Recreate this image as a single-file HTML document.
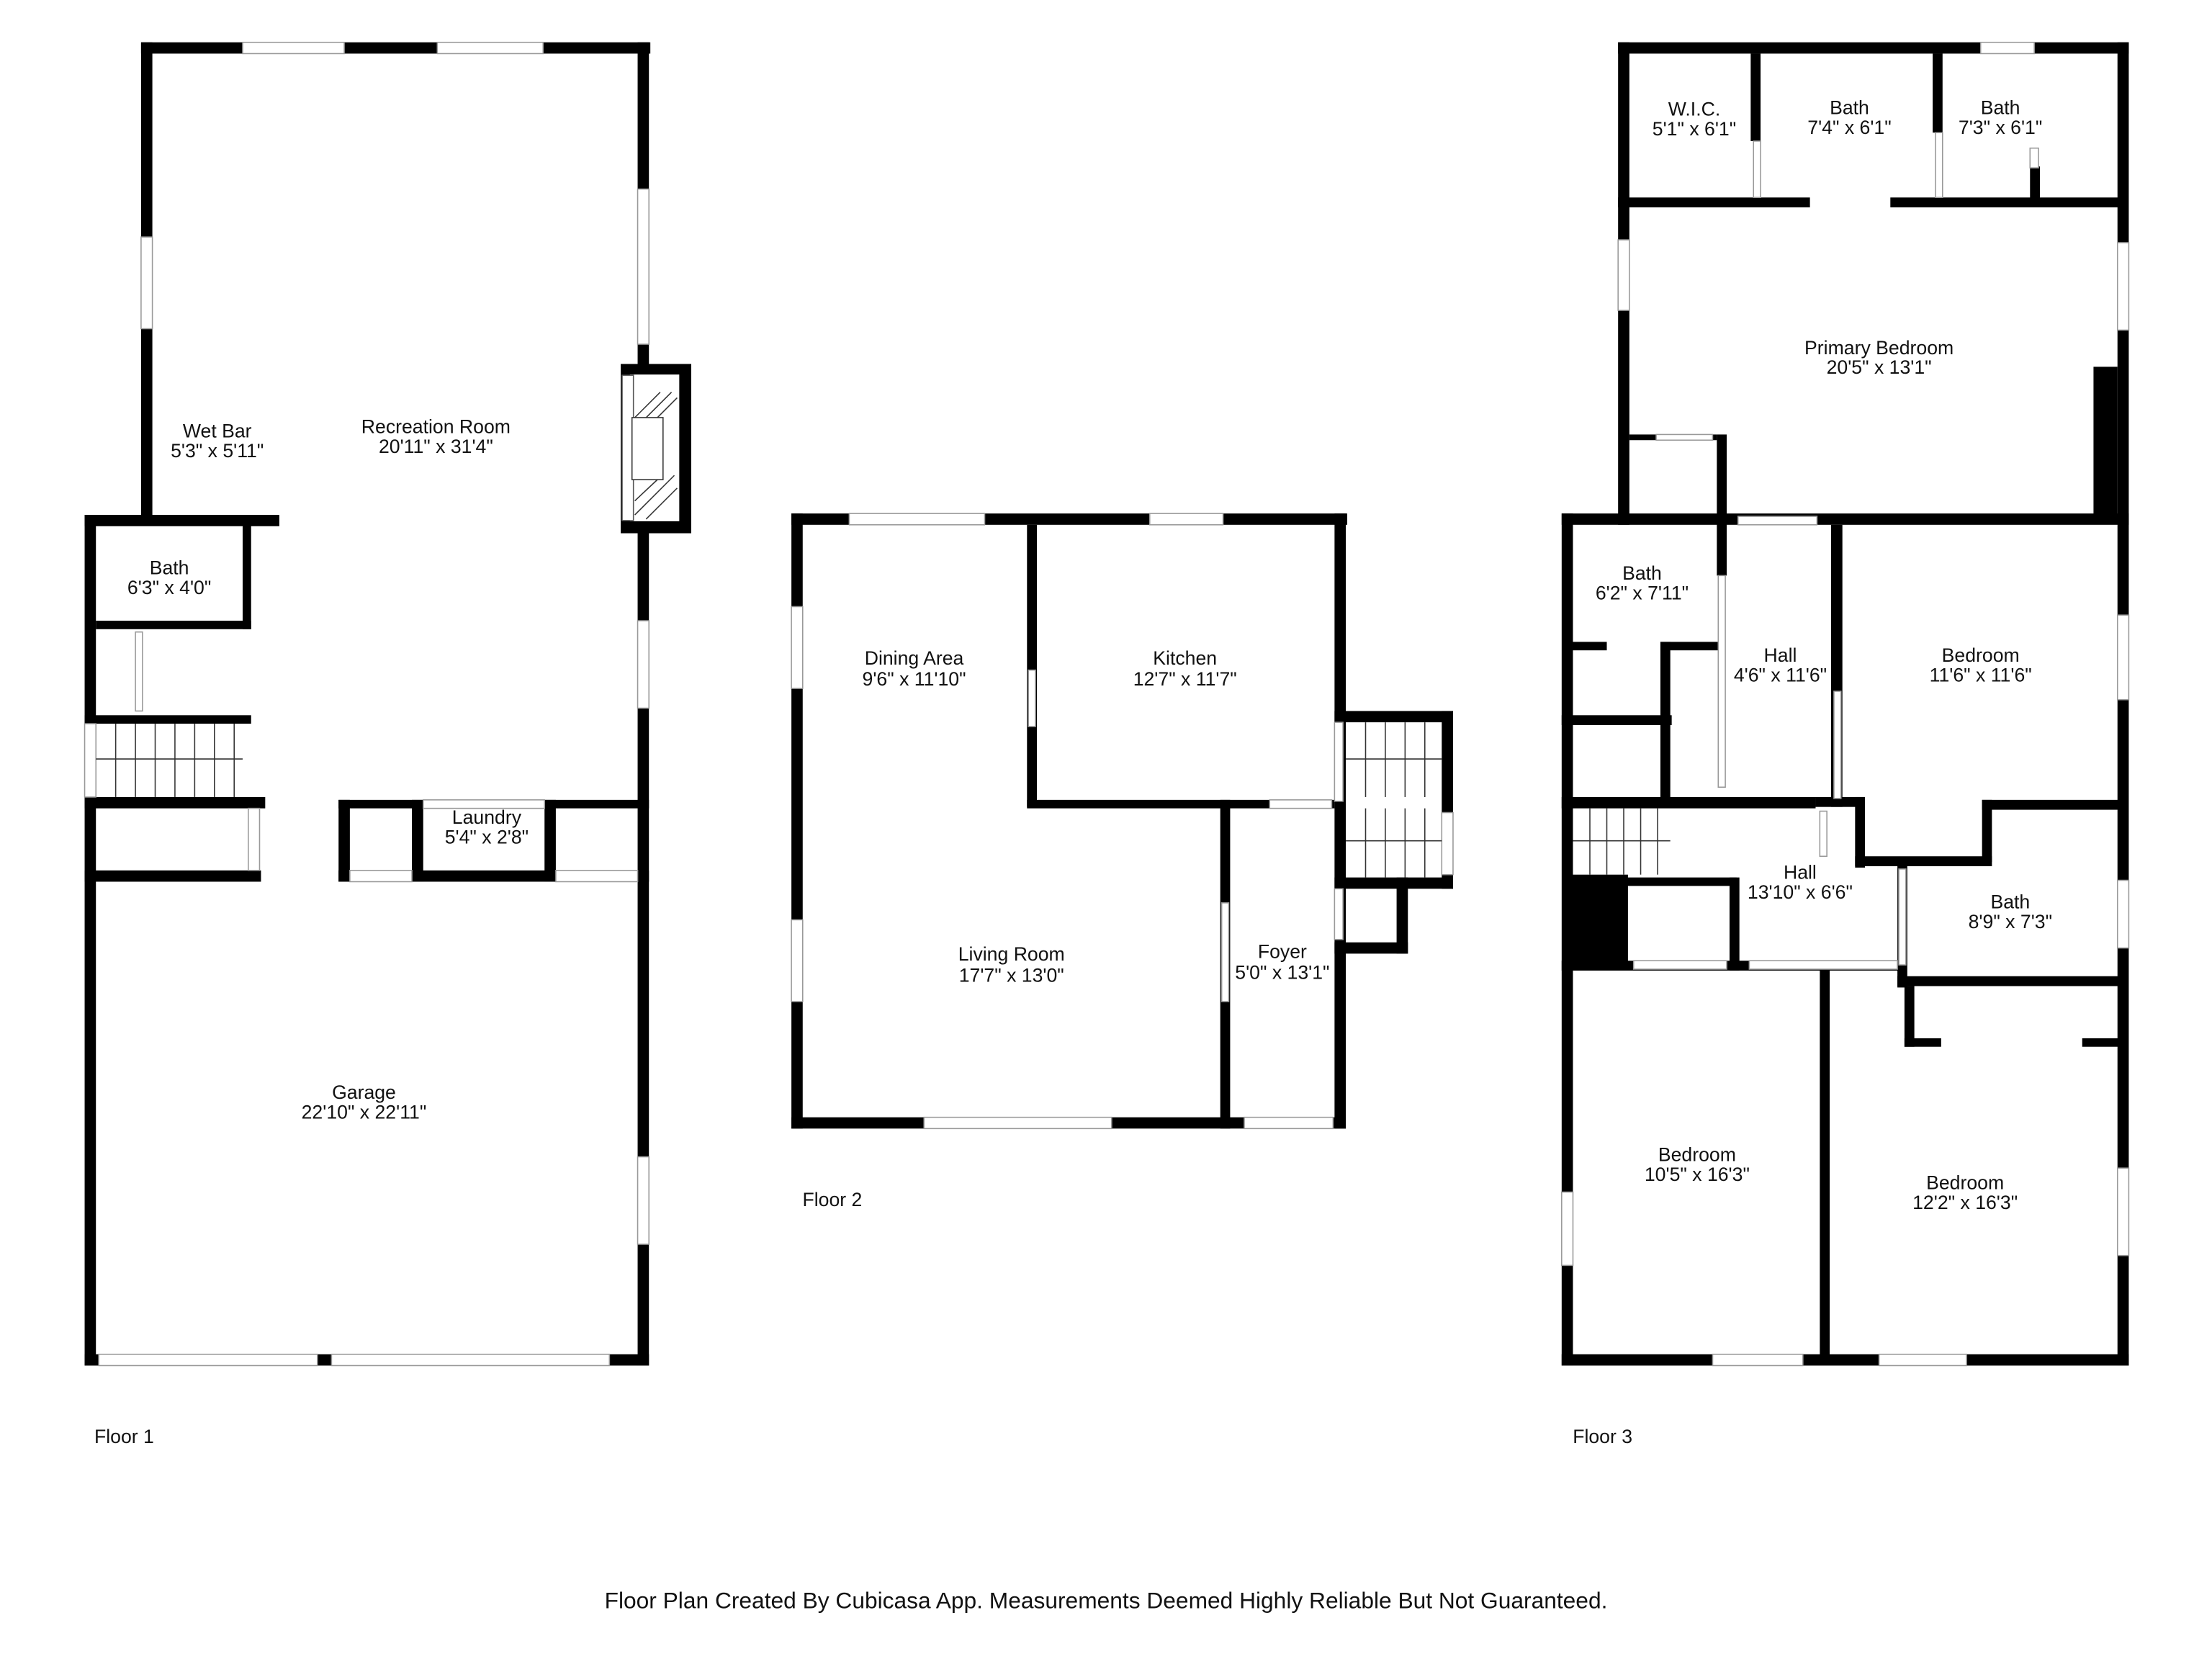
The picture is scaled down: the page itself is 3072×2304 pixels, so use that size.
<!DOCTYPE html>
<html><head><meta charset="utf-8"><style>
html,body{margin:0;padding:0;background:#fff;}
svg{display:block;}
text{font-family:"Liberation Sans",sans-serif;font-size:13.6px;fill:#111;text-anchor:middle;}
.w{fill:#000;}
.win{fill:#fff;stroke:#999;stroke-width:0.8;}
.st{stroke:#333;stroke-width:0.8;fill:none;}
</style></head><body>
<svg width="3072" height="2304" viewBox="0 0 1568 1176" xmlns="http://www.w3.org/2000/svg">
<rect width="1568" height="1176" fill="#fff"/>
<!-- FLOOR 1 -->
<g>
<rect class="w" x="100" y="30" width="361" height="8"/>
<rect class="w" x="100" y="30" width="8" height="342"/>
<rect class="w" x="452" y="30" width="8" height="938"/>
<rect class="w" x="60" y="365" width="138" height="8"/>
<rect class="w" x="60" y="365" width="8" height="603"/>
<rect class="w" x="172" y="372" width="6" height="74"/>
<rect class="w" x="68" y="440" width="110" height="6"/>
<rect class="w" x="60" y="507" width="118" height="6"/>
<rect class="w" x="60" y="565" width="128" height="8"/>
<rect class="w" x="60" y="617" width="125" height="8"/>
<rect class="w" x="240" y="617" width="220" height="8"/>
<rect class="w" x="240" y="567" width="8" height="58"/>
<rect class="w" x="240" y="567" width="60" height="6"/>
<rect class="w" x="292" y="567" width="8" height="58"/>
<rect class="w" x="386" y="567" width="74" height="6"/>
<rect class="w" x="386" y="567" width="8" height="58"/>
<rect class="w" x="60" y="960" width="400" height="8"/>
<!-- fireplace -->
<rect class="w" x="440" y="258" width="50" height="120"/>
<rect x="446" y="265" width="36" height="105" fill="#fff" stroke="#000"/>
<rect x="441" y="266" width="8" height="103" fill="#fff" stroke="#555" stroke-width="0.8"/>
<g stroke="#333" stroke-width="0.8">
<line x1="450" y1="296" x2="468" y2="278"/><line x1="458" y1="296" x2="476" y2="278"/><line x1="466" y1="296" x2="480" y2="282"/>
<line x1="450" y1="365" x2="478" y2="337"/><line x1="458" y1="368" x2="480" y2="346"/><line x1="450" y1="355" x2="466" y2="340"/>
</g>
<rect x="448" y="296" width="22" height="44" fill="#fff" stroke="#333" stroke-width="0.8"/>
<!-- windows -->
<rect class="win" x="172" y="30" width="72" height="8"/>
<rect class="win" x="310" y="30" width="75" height="8"/>
<rect class="win" x="100" y="168" width="8" height="65"/>
<rect class="win" x="452" y="134" width="8" height="110"/>
<rect class="win" x="452" y="440" width="8" height="62"/>
<rect class="win" x="452" y="820" width="8" height="62"/>
<rect class="win" x="70" y="960" width="155" height="8"/>
<rect class="win" x="235" y="960" width="197" height="8"/>
<rect class="win" x="96" y="448" width="5" height="56"/>
<rect class="win" x="60" y="513" width="8" height="52"/>
<rect class="win" x="176" y="573" width="8" height="44"/>
<rect class="win" x="248" y="617" width="44" height="8"/>
<rect class="win" x="300" y="567" width="86" height="6"/>
<rect class="win" x="394" y="617" width="58" height="8"/>
<!-- stairs -->
<g class="st"><line x1="68" y1="538" x2="172" y2="538"/>
<line x1="82" y1="513" x2="82" y2="565"/><line x1="96" y1="513" x2="96" y2="565"/><line x1="110" y1="513" x2="110" y2="565"/><line x1="124" y1="513" x2="124" y2="565"/><line x1="138" y1="513" x2="138" y2="565"/><line x1="152" y1="513" x2="152" y2="565"/><line x1="166" y1="513" x2="166" y2="565"/></g>
<text x="154" y="310">Wet Bar</text><text x="154" y="324">5'3" x 5'11"</text>
<text x="309" y="307">Recreation Room</text><text x="309" y="321">20'11" x 31'4"</text>
<text x="120" y="407">Bath</text><text x="120" y="421">6'3" x 4'0"</text>
<text x="345" y="584">Laundry</text><text x="345" y="598">5'4" x 2'8"</text>
<text x="258" y="779">Garage</text><text x="258" y="793">22'10" x 22'11"</text>
<text x="88" y="1023">Floor 1</text>
</g>
<!-- FLOOR 2 -->
<g>
<rect class="w" x="561" y="364" width="394" height="8"/>
<rect class="w" x="561" y="364" width="8" height="436"/>
<rect class="w" x="946" y="364" width="8" height="436"/>
<rect class="w" x="561" y="792" width="393" height="8"/>
<rect class="w" x="728" y="372" width="7" height="200"/>
<rect class="w" x="728" y="567" width="218" height="6"/>
<rect class="w" x="865" y="567" width="7" height="233"/>
<rect class="w" x="946" y="504" width="84" height="8"/>
<rect class="w" x="1022" y="504" width="8" height="126"/>
<rect class="w" x="946" y="622" width="84" height="8"/>
<rect class="w" x="990" y="622" width="8" height="54"/>
<rect class="w" x="946" y="668" width="52" height="8"/>
<rect class="win" x="602" y="364" width="96" height="8"/>
<rect class="win" x="815" y="364" width="52" height="8"/>
<rect class="win" x="561" y="430" width="8" height="58"/>
<rect class="win" x="561" y="652" width="8" height="58"/>
<rect class="win" x="655" y="792" width="133" height="8"/>
<rect class="win" x="882" y="792" width="63" height="8"/>
<rect class="win" x="729" y="475" width="5" height="40"/>
<rect class="win" x="866" y="640" width="5" height="70"/>
<rect class="win" x="900" y="567" width="44" height="6"/>
<rect class="win" x="946" y="512" width="6" height="56"/>
<rect class="win" x="946" y="630" width="6" height="36"/>
<rect class="win" x="1022" y="576" width="8" height="44"/>
<g class="st"><line x1="954" y1="538" x2="1022" y2="538"/><line x1="954" y1="596" x2="1022" y2="596"/>
<line x1="968" y1="512" x2="968" y2="565"/><line x1="982" y1="512" x2="982" y2="565"/><line x1="996" y1="512" x2="996" y2="565"/><line x1="1010" y1="512" x2="1010" y2="565"/>
<line x1="968" y1="573" x2="968" y2="622"/><line x1="982" y1="573" x2="982" y2="622"/><line x1="996" y1="573" x2="996" y2="622"/><line x1="1010" y1="573" x2="1010" y2="622"/></g>
<text x="648" y="471">Dining Area</text><text x="648" y="486">9'6" x 11'10"</text>
<text x="840" y="471">Kitchen</text><text x="840" y="486">12'7" x 11'7"</text>
<text x="717" y="681">Living Room</text><text x="717" y="696">17'7" x 13'0"</text>
<text x="909" y="679">Foyer</text><text x="909" y="694">5'0" x 13'1"</text>
<text x="590" y="855">Floor 2</text>
</g>
<!-- FLOOR 3 -->
<g>
<rect class="w" x="1147" y="30" width="362" height="8"/>
<rect class="w" x="1147" y="30" width="8" height="342"/>
<rect class="w" x="1501" y="30" width="8" height="938"/>
<rect class="w" x="1147" y="140" width="136" height="7"/>
<rect class="w" x="1340" y="140" width="165" height="7"/>
<rect class="w" x="1241" y="38" width="7" height="62"/>
<rect class="w" x="1370" y="38" width="7" height="56"/>
<rect class="w" x="1439" y="118" width="7" height="24"/>
<rect class="w" x="1484" y="260" width="17" height="110"/>
<rect class="w" x="1107" y="364" width="402" height="8"/>
<rect class="w" x="1107" y="364" width="8" height="604"/>
<rect class="w" x="1107" y="960" width="402" height="8"/>
<rect class="w" x="1217" y="308" width="7" height="100"/>
<rect class="w" x="1155" y="308" width="62" height="4"/>
<rect class="w" x="1115" y="455" width="24" height="6"/>
<rect class="w" x="1107" y="507" width="78" height="7"/>
<rect class="w" x="1177" y="455" width="7" height="116"/>
<rect class="w" x="1177" y="455" width="44" height="6"/>
<rect class="w" x="1298" y="372" width="8" height="200"/>
<rect class="w" x="1107" y="565" width="180" height="8"/>
<rect class="w" x="1287" y="565" width="35" height="7"/>
<rect class="w" x="1315" y="565" width="7" height="50"/>
<rect class="w" x="1315" y="607" width="97" height="7"/>
<rect class="w" x="1405" y="567" width="100" height="7"/>
<rect class="w" x="1405" y="567" width="7" height="44"/>
<rect class="w" x="1110" y="620" width="44" height="66"/>
<rect class="w" x="1147" y="622" width="84" height="6"/>
<rect class="w" x="1226" y="622" width="7" height="66"/>
<rect class="w" x="1107" y="681" width="243" height="7"/>
<rect class="w" x="1345" y="692" width="160" height="7"/>
<rect class="w" x="1345" y="610" width="7" height="90"/>
<rect class="w" x="1290" y="686" width="7" height="278"/>
<rect class="w" x="1350" y="699" width="7" height="43"/>
<rect class="w" x="1350" y="736" width="26" height="6"/>
<rect class="w" x="1476" y="736" width="28" height="6"/>
<rect class="win" x="1404" y="30" width="38" height="8"/>
<rect class="win" x="1147" y="170" width="8" height="50"/>
<rect class="win" x="1501" y="172" width="8" height="62"/>
<rect class="win" x="1501" y="436" width="8" height="60"/>
<rect class="win" x="1501" y="624" width="8" height="48"/>
<rect class="win" x="1501" y="828" width="8" height="62"/>
<rect class="win" x="1107" y="845" width="8" height="52"/>
<rect class="win" x="1214" y="960" width="64" height="8"/>
<rect class="win" x="1332" y="960" width="62" height="8"/>
<rect class="win" x="1243" y="100" width="5" height="40"/>
<rect class="win" x="1372" y="94" width="5" height="46"/>
<rect class="win" x="1439" y="105" width="6" height="14"/>
<rect class="win" x="1174" y="308" width="40" height="4"/>
<rect class="win" x="1218" y="408" width="5" height="150"/>
<rect class="win" x="1300" y="490" width="5" height="76"/>
<rect class="win" x="1232" y="366" width="56" height="6"/>
<rect class="win" x="1290" y="575" width="5" height="32"/>
<rect class="win" x="1158" y="681" width="66" height="6"/>
<rect class="win" x="1240" y="681" width="105" height="6"/>
<rect class="win" x="1346" y="616" width="5" height="68"/>
<g class="st"><line x1="1115" y1="596" x2="1184" y2="596"/>
<line x1="1127" y1="573" x2="1127" y2="620"/><line x1="1139" y1="573" x2="1139" y2="620"/><line x1="1151" y1="573" x2="1151" y2="620"/><line x1="1163" y1="573" x2="1163" y2="620"/><line x1="1175" y1="573" x2="1175" y2="620"/></g>
<text x="1201" y="82">W.I.C.</text><text x="1201" y="96">5'1" x 6'1"</text>
<text x="1311" y="81">Bath</text><text x="1311" y="95">7'4" x 6'1"</text>
<text x="1418" y="81">Bath</text><text x="1418" y="95">7'3" x 6'1"</text>
<text x="1332" y="251">Primary Bedroom</text><text x="1332" y="265">20'5" x 13'1"</text>
<text x="1164" y="411">Bath</text><text x="1164" y="425">6'2" x 7'11"</text>
<text x="1262" y="469">Hall</text><text x="1262" y="483">4'6" x 11'6"</text>
<text x="1404" y="469">Bedroom</text><text x="1404" y="483">11'6" x 11'6"</text>
<text x="1276" y="623">Hall</text><text x="1276" y="637">13'10" x 6'6"</text>
<text x="1425" y="644">Bath</text><text x="1425" y="658">8'9" x 7'3"</text>
<text x="1203" y="823">Bedroom</text><text x="1203" y="837">10'5" x 16'3"</text>
<text x="1393" y="843">Bedroom</text><text x="1393" y="857">12'2" x 16'3"</text>
<text x="1136" y="1023">Floor 3</text>
</g>
<text x="784" y="1140" style="font-size:16.2px">Floor Plan Created By Cubicasa App. Measurements Deemed Highly Reliable But Not Guaranteed.</text>
</svg>
</body></html>
